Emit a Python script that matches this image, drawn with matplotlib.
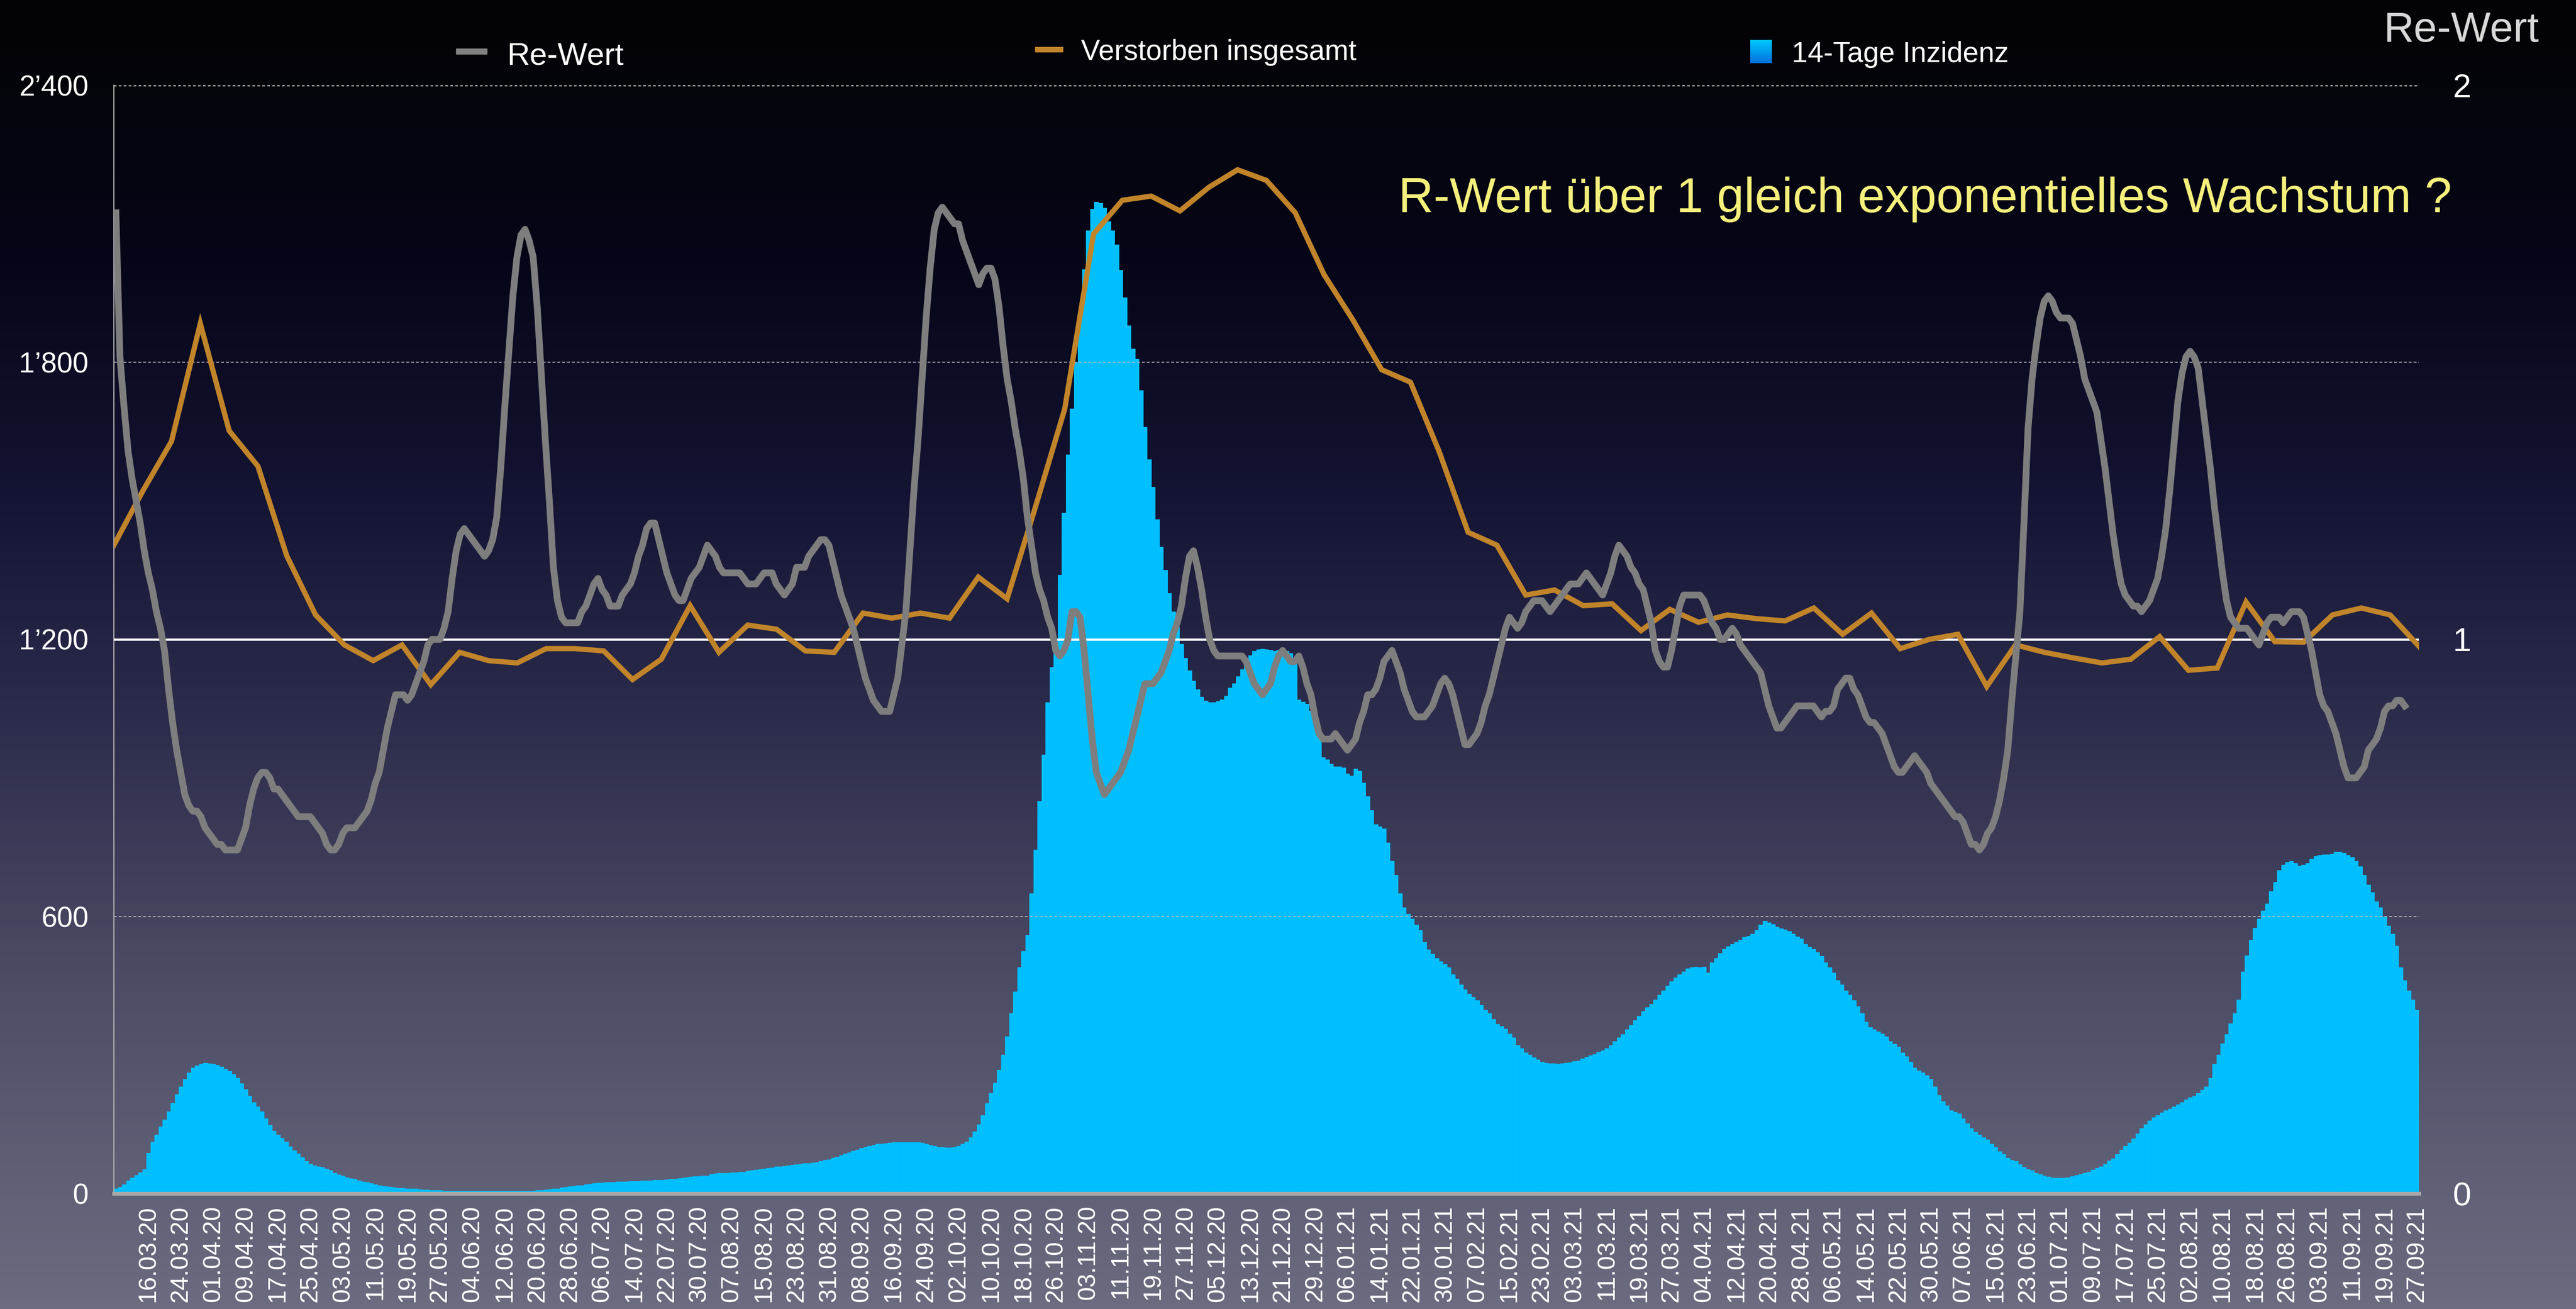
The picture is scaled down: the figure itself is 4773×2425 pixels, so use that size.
import matplotlib
matplotlib.use("Agg")
import matplotlib.pyplot as plt
from matplotlib.colors import LinearSegmentedColormap
from matplotlib.patches import Rectangle
import numpy as np

plt.rcParams['font.family'] = ['Liberation Sans', 'DejaVu Sans']

# 14-Tage Inzidenz, one value per day starting 08.03.20 (left axis)
inzidenz = [
    10, 14, 20, 28, 34, 40, 46, 53, 88, 112,
    128, 145, 160, 178, 196, 215, 232, 248, 262, 272,
    277, 281, 283, 282, 280, 278, 275, 270, 265, 258,
    250, 238, 226, 212, 198, 188, 178, 162, 148, 136,
    128, 120, 112, 102, 93, 86, 78, 70, 64, 61,
    59, 57, 54, 50, 45, 41, 38, 35, 33, 31,
    28, 26, 24, 22, 20, 18, 16, 15, 14, 13,
    12, 12, 11, 11, 10, 9, 8, 8, 7, 7,
    7, 6, 6, 6, 6, 6, 6, 6, 6, 6,
    6, 6, 6, 6, 6, 6, 6, 6, 6, 6,
    6, 6, 6, 6, 7, 7, 8, 9, 10, 11,
    13, 14, 15, 16, 17, 18, 20, 21, 22, 23,
    23, 24, 25, 25, 26, 26, 26, 27, 27, 27,
    28, 28, 28, 29, 29, 29, 30, 31, 32, 33,
    34, 35, 36, 37, 37, 38, 38, 42, 43, 44,
    45, 45, 46, 46, 47, 47, 49, 50, 52, 53,
    54, 55, 56, 58, 59, 60, 61, 62, 63, 64,
    65, 66, 67, 68, 70, 72, 74, 77, 80, 83,
    86, 89, 92, 95, 98, 101, 103, 105, 107, 108,
    109, 110, 111, 111, 111, 111, 111, 111, 111, 110,
    107, 105, 103, 101, 100, 99, 99, 100, 103, 107,
    112, 122, 135, 150, 170, 195, 218, 240, 268, 300,
    340, 390, 437, 490, 525, 560, 650, 745, 850, 950,
    1064, 1140, 1200, 1340, 1474, 1600, 1700, 1800, 1900, 2001,
    2086, 2132, 2148, 2145, 2135, 2105, 2085, 2055, 2000, 1940,
    1880, 1830, 1807, 1740, 1660, 1590, 1530, 1460, 1400, 1350,
    1300, 1260, 1226, 1190, 1160, 1133, 1110, 1092, 1075, 1067,
    1064, 1064, 1066, 1070, 1078, 1095, 1105, 1120, 1135, 1150,
    1165, 1175, 1178, 1180, 1178, 1177, 1175, 1177, 1177, 1175,
    1170, 1160, 1070, 1065, 1060, 1045, 1010, 995, 945, 940,
    930, 925, 925, 922, 910, 905, 920, 915, 890, 860,
    830, 800, 795, 790, 760, 720, 690, 650, 620, 605,
    595, 582, 570, 545, 528, 519, 510, 503, 497, 490,
    475, 465, 452, 442, 432, 425, 418, 408, 398, 390,
    378, 367, 362, 357, 346, 338, 322, 315, 305, 300,
    295, 290, 285, 283, 282, 282, 281, 282, 283, 284,
    286, 288, 292, 296, 299, 302, 306, 310, 315, 322,
    330, 338, 345, 355, 365, 375, 385, 395, 403, 410,
    420, 430, 440, 450, 460, 468, 475, 480, 488, 490,
    491, 490, 491, 478, 500, 510, 520, 530, 535, 540,
    545, 550, 555, 558, 562, 570, 582, 590, 587, 583,
    578, 574, 572, 568, 562, 556, 552, 540, 534, 530,
    522, 514, 500, 490, 478, 462, 452, 440, 430, 418,
    406, 390, 372, 360, 355, 351, 346, 340, 330, 324,
    318, 305, 297, 285, 272, 266, 262, 256, 248, 232,
    213, 200, 190, 180, 176, 173, 162, 152, 142, 133,
    127, 122, 117, 108, 101, 91, 85, 77, 72, 70,
    63, 57, 53, 50, 45, 42, 39, 36, 34, 34,
    34, 34, 35, 37, 40, 42, 44, 47, 51, 55,
    58, 64, 71, 76, 85, 95, 103, 110, 119, 130,
    142, 150, 158, 165, 170, 175, 180, 183, 188, 193,
    198, 203, 208, 212, 218, 224, 232, 250, 280, 300,
    325, 345, 368, 390, 420, 480, 515, 550, 575, 595,
    612, 628, 655, 675, 700, 712, 718, 720, 716, 710,
    712, 715, 725, 731, 733, 734, 734, 735, 740, 740,
    738, 733, 728, 720, 708, 690, 669, 652, 632, 620,
    600, 580, 562, 537, 490, 462, 440, 420, 398,
]

# Re-Wert, daily (right axis)
re_wert = [
    1.77, 1.51, 1.42, 1.34, 1.29, 1.25, 1.21, 1.16, 1.12, 1.09,
    1.05, 1.02, 0.98, 0.91, 0.85, 0.80, 0.76, 0.72, 0.70, 0.69,
    0.69, 0.68, 0.66, 0.65, 0.64, 0.63, 0.63, 0.62, 0.62, 0.62,
    0.62, 0.64, 0.66, 0.70, 0.73, 0.75, 0.76, 0.76, 0.75, 0.73,
    0.73, 0.72, 0.71, 0.70, 0.69, 0.68, 0.68, 0.68, 0.68, 0.67,
    0.66, 0.65, 0.63, 0.62, 0.62, 0.63, 0.65, 0.66, 0.66, 0.66,
    0.67, 0.68, 0.69, 0.71, 0.74, 0.76, 0.80, 0.84, 0.87, 0.90,
    0.90, 0.90, 0.89, 0.90, 0.92, 0.94, 0.96, 0.99, 1.00, 1.00,
    1.00, 1.02, 1.05, 1.11, 1.16, 1.19, 1.20, 1.19, 1.18, 1.17,
    1.16, 1.15, 1.16, 1.18, 1.22, 1.31, 1.42, 1.52, 1.62, 1.69,
    1.73, 1.74, 1.72, 1.69, 1.60, 1.48, 1.36, 1.25, 1.13, 1.07,
    1.04, 1.03, 1.03, 1.03, 1.03, 1.05, 1.06, 1.08, 1.10, 1.11,
    1.09, 1.08, 1.06, 1.06, 1.06, 1.08, 1.09, 1.10, 1.12, 1.15,
    1.17, 1.20, 1.21, 1.21, 1.18, 1.15, 1.12, 1.10, 1.08, 1.07,
    1.07, 1.09, 1.11, 1.12, 1.13, 1.15, 1.17, 1.16, 1.15, 1.13,
    1.12, 1.12, 1.12, 1.12, 1.12, 1.11, 1.10, 1.10, 1.10, 1.11,
    1.12, 1.12, 1.12, 1.10, 1.09, 1.08, 1.09, 1.10, 1.13, 1.13,
    1.13, 1.15, 1.16, 1.17, 1.18, 1.18, 1.17, 1.14, 1.11, 1.08,
    1.06, 1.04, 1.02, 0.99, 0.96, 0.93, 0.91, 0.89, 0.88, 0.87,
    0.87, 0.87, 0.90, 0.93, 0.99, 1.05, 1.16, 1.27, 1.36, 1.47,
    1.58, 1.67, 1.74, 1.77, 1.78, 1.77, 1.76, 1.75, 1.75, 1.72,
    1.70, 1.68, 1.66, 1.64, 1.66, 1.67, 1.67, 1.65, 1.60, 1.53,
    1.47, 1.43, 1.38, 1.34, 1.29, 1.22, 1.17, 1.12, 1.09, 1.07,
    1.04, 1.02, 0.98, 0.97, 0.98, 1.00, 1.05, 1.05, 1.04, 0.98,
    0.90, 0.82, 0.76, 0.74, 0.72, 0.73, 0.74, 0.75, 0.76, 0.78,
    0.80, 0.83, 0.86, 0.89, 0.92, 0.92, 0.92, 0.93, 0.94, 0.96,
    0.98, 1.01, 1.03, 1.06, 1.11, 1.15, 1.16, 1.13, 1.09, 1.04,
    1.00, 0.98, 0.97, 0.97, 0.97, 0.97, 0.97, 0.97, 0.97, 0.96,
    0.94, 0.92, 0.91, 0.90, 0.91, 0.92, 0.95, 0.97, 0.98, 0.97,
    0.96, 0.96, 0.97, 0.95, 0.92, 0.90, 0.86, 0.83, 0.82, 0.82,
    0.82, 0.83, 0.82, 0.81, 0.80, 0.81, 0.82, 0.85, 0.87, 0.90,
    0.90, 0.91, 0.93, 0.96, 0.97, 0.98, 0.96, 0.94, 0.91, 0.89,
    0.87, 0.86, 0.86, 0.86, 0.87, 0.88, 0.90, 0.92, 0.93, 0.92,
    0.90, 0.87, 0.84, 0.81, 0.81, 0.82, 0.83, 0.85, 0.88, 0.90,
    0.93, 0.96, 0.99, 1.02, 1.04, 1.03, 1.02, 1.03, 1.05, 1.06,
    1.07, 1.07, 1.07, 1.06, 1.05, 1.06, 1.07, 1.08, 1.09, 1.10,
    1.10, 1.10, 1.11, 1.12, 1.11, 1.10, 1.09, 1.08, 1.10, 1.12,
    1.15, 1.17, 1.16, 1.15, 1.13, 1.12, 1.10, 1.09, 1.06, 1.03,
    0.98, 0.96, 0.95, 0.95, 0.98, 1.02, 1.06, 1.08, 1.08, 1.08,
    1.08, 1.08, 1.07, 1.05, 1.03, 1.02, 1.00, 1.00, 1.01, 1.02,
    1.01, 0.99, 0.98, 0.97, 0.96, 0.95, 0.94, 0.91, 0.88, 0.86,
    0.84, 0.84, 0.85, 0.86, 0.87, 0.88, 0.88, 0.88, 0.88, 0.88,
    0.87, 0.86, 0.87, 0.87, 0.88, 0.91, 0.92, 0.93, 0.93, 0.91,
    0.90, 0.88, 0.86, 0.85, 0.85, 0.84, 0.83, 0.81, 0.79, 0.77,
    0.76, 0.76, 0.77, 0.78, 0.79, 0.78, 0.77, 0.76, 0.74, 0.73,
    0.72, 0.71, 0.70, 0.69, 0.68, 0.68, 0.67, 0.65, 0.63, 0.63,
    0.62, 0.63, 0.65, 0.66, 0.68, 0.71, 0.75, 0.80, 0.89, 0.97,
    1.05, 1.21, 1.38, 1.47, 1.53, 1.58, 1.61, 1.62, 1.61, 1.59,
    1.58, 1.58, 1.58, 1.57, 1.54, 1.51, 1.47, 1.45, 1.43, 1.41,
    1.36, 1.31, 1.25, 1.19, 1.14, 1.10, 1.08, 1.07, 1.06, 1.06,
    1.05, 1.06, 1.07, 1.09, 1.11, 1.15, 1.20, 1.27, 1.35, 1.43,
    1.48, 1.51, 1.52, 1.51, 1.49, 1.43, 1.37, 1.31, 1.24, 1.18,
    1.12, 1.07, 1.04, 1.03, 1.02, 1.02, 1.02, 1.01, 1.00, 0.99,
    1.01, 1.03, 1.04, 1.04, 1.04, 1.03, 1.04, 1.05, 1.05, 1.05,
    1.04, 1.01, 0.98, 0.94, 0.90, 0.88, 0.87, 0.85, 0.83, 0.80,
    0.77, 0.75, 0.75, 0.75, 0.76, 0.77, 0.80, 0.81, 0.82, 0.84,
    0.87, 0.88, 0.88, 0.89, 0.89, 0.88,
]

# Verstorben insgesamt, weekly points spread over the full width (left axis)
verstorben = [
    1404, 1521, 1629, 1884, 1652, 1575, 1381, 1253, 1188, 1154,
    1188, 1102, 1172, 1154, 1149, 1180, 1180, 1175, 1113, 1157,
    1273, 1172, 1231, 1222, 1175, 1172, 1257, 1246, 1257, 1246,
    1335, 1288, 1490, 1699, 2078, 2151, 2160, 2128, 2179, 2217,
    2194, 2124, 1990, 1892, 1784, 1757, 1606, 1432, 1404, 1296,
    1307, 1273, 1277, 1219, 1265, 1237, 1253, 1245, 1240, 1268,
    1211, 1257, 1180, 1200, 1211, 1098, 1188, 1172, 1160, 1149,
    1157, 1206, 1133, 1138, 1281, 1195, 1194, 1253, 1268, 1253,
    1185,
]

date_labels = [
    "16.03.20", "24.03.20", "01.04.20", "09.04.20", "17.04.20", "25.04.20",
    "03.05.20", "11.05.20", "19.05.20", "27.05.20", "04.06.20", "12.06.20",
    "20.06.20", "28.06.20", "06.07.20", "14.07.20", "22.07.20", "30.07.20",
    "07.08.20", "15.08.20", "23.08.20", "31.08.20", "08.09.20", "16.09.20",
    "24.09.20", "02.10.20", "10.10.20", "18.10.20", "26.10.20", "03.11.20",
    "11.11.20", "19.11.20", "27.11.20", "05.12.20", "13.12.20", "21.12.20",
    "29.12.20", "06.01.21", "14.01.21", "22.01.21", "30.01.21", "07.02.21",
    "15.02.21", "23.02.21", "03.03.21", "11.03.21", "19.03.21", "27.03.21",
    "04.04.21", "12.04.21", "20.04.21", "28.04.21", "06.05.21", "14.05.21",
    "22.05.21", "30.05.21", "07.06.21", "15.06.21", "23.06.21", "01.07.21",
    "09.07.21", "17.07.21", "25.07.21", "02.08.21", "10.08.21", "18.08.21",
    "26.08.21", "03.09.21", "11.09.21", "19.09.21", "27.09.21",
]
first_label_day = 8
label_step = 8

left_ticks = [0, 600, 1200, 1800, 2400]
left_ticklabels = ["0", "600", "1\u2019200", "1\u2019800", "2\u2019400"]
right_ticks = [0, 1, 2]

CYAN = "#00bffe"
GREY = "#7e7e7e"
ORANGE = "#c1842a"

W, H = 4773, 2425
fig = plt.figure(figsize=(W / 100, H / 100), dpi=100)

# background: black at the top fading to a grey-violet at the bottom
bg = fig.add_axes([0, 0, 1, 1], zorder=-10)
bg_cmap = LinearSegmentedColormap.from_list("bg", [
    (0.0, "#6c6c80"), (0.25, "#4c4c66"), (0.45, "#2c2c4c"),
    (0.62, "#141434"), (0.80, "#060618"), (1.0, "#030305")])
bg.imshow(np.linspace(0, 1, 600).reshape(-1, 1), cmap=bg_cmap, aspect="auto",
          origin="lower", extent=[0, 1, 0, 1])
bg.set_axis_off()

ax = fig.add_axes([211 / W, 1 - 2211 / H, (4482 - 211) / W, (2211 - 158) / H])
ax.set_facecolor("none")

days = np.arange(len(inzidenz))
ax.bar(days, inzidenz, width=1.0, color=CYAN, edgecolor=CYAN, linewidth=0.6, zorder=2)

x_weekly = np.linspace(-0.5, len(inzidenz) - 0.5, len(verstorben))
ax.plot(x_weekly, verstorben, color=ORANGE, linewidth=7, solid_joinstyle="miter", zorder=5)

ax.set_xlim(-0.5, len(inzidenz) - 0.5)
ax.set_ylim(0, 2400)

ax.set_yticks(left_ticks)
ax.set_yticklabels(left_ticklabels)
ax.tick_params(axis="y", length=0, pad=34, labelsize=38, labelcolor="white")

tick_pos = [first_label_day + label_step * i for i in range(len(date_labels))]
ax.set_xticks(tick_pos)
ax.set_xticklabels(date_labels, rotation=90)
ax.tick_params(axis="x", length=0, pad=16, labelsize=33, labelcolor="white")

# grid lines
for y in (600, 1800):
    ax.axhline(y, color="#b8b8c0", linewidth=1.3, linestyle=(0, (3, 2)), zorder=3)
ax.axhline(2400, color="#c8c8c8", linewidth=3, linestyle=(0, (1.2, 1)), zorder=3)
ax.axhline(1200, color="white", linewidth=3, zorder=4)

for side in ("top", "right"):
    ax.spines[side].set_visible(False)
ax.spines["left"].set_color("#b0b0b0")
ax.spines["left"].set_linewidth(1.5)
ax.spines["bottom"].set_color("#a8a8a8")
ax.spines["bottom"].set_linewidth(5)
ax.spines["bottom"].set_zorder(6)

# Re-Wert on its own scale
ax2 = ax.twinx()
ax2.set_ylim(0, 2)
ax2.plot(days[:len(re_wert)], re_wert, color=GREY, linewidth=9, zorder=6)
ax2.set_yticks(right_ticks)
ax2.tick_params(axis="y", length=0, pad=45, labelsize=44, labelcolor="white")
for side in ("top", "right", "left", "bottom"):
    ax2.spines[side].set_visible(False)

# legend entries along the top
fig.add_artist(Rectangle((845 / W, 1 - 100 / H), 57 / W, 10 / H,
                         transform=fig.transFigure, color="#808080"))
fig.text(939 / W, 1 - 120 / H, "Re-Wert", color="white", fontsize=42, va="baseline")

fig.add_artist(Rectangle((1918 / W, 1 - 96 / H), 51 / W, 9 / H,
                         transform=fig.transFigure, color=ORANGE))
fig.text(2003 / W, 1 - 111 / H, "Verstorben insgesamt", color="white", fontsize=38,
         va="baseline")

sw = fig.add_axes([3243 / W, 1 - 117 / H, 40 / W, 43 / H])
sw.imshow(np.linspace(0, 1, 50).reshape(-1, 1), aspect="auto",
          cmap=LinearSegmentedColormap.from_list("sw", ["#00c8ff", "#0070dc"]))
sw.set_axis_off()
fig.text(3320 / W, 1 - 115 / H, "14-Tage Inzidenz", color="white", fontsize=38,
         va="baseline")

fig.text(4705 / W, 1 - 77 / H, "Re-Wert", color="#d8d8d8", fontsize=56,
         ha="right", va="baseline")

fig.text(2591 / W, 1 - 393 / H, "R-Wert \u00fcber 1 gleich exponentielles Wachstum ?",
         color="#f5f07c", fontsize=65, va="baseline")

fig.savefig("out.png", dpi=100)
